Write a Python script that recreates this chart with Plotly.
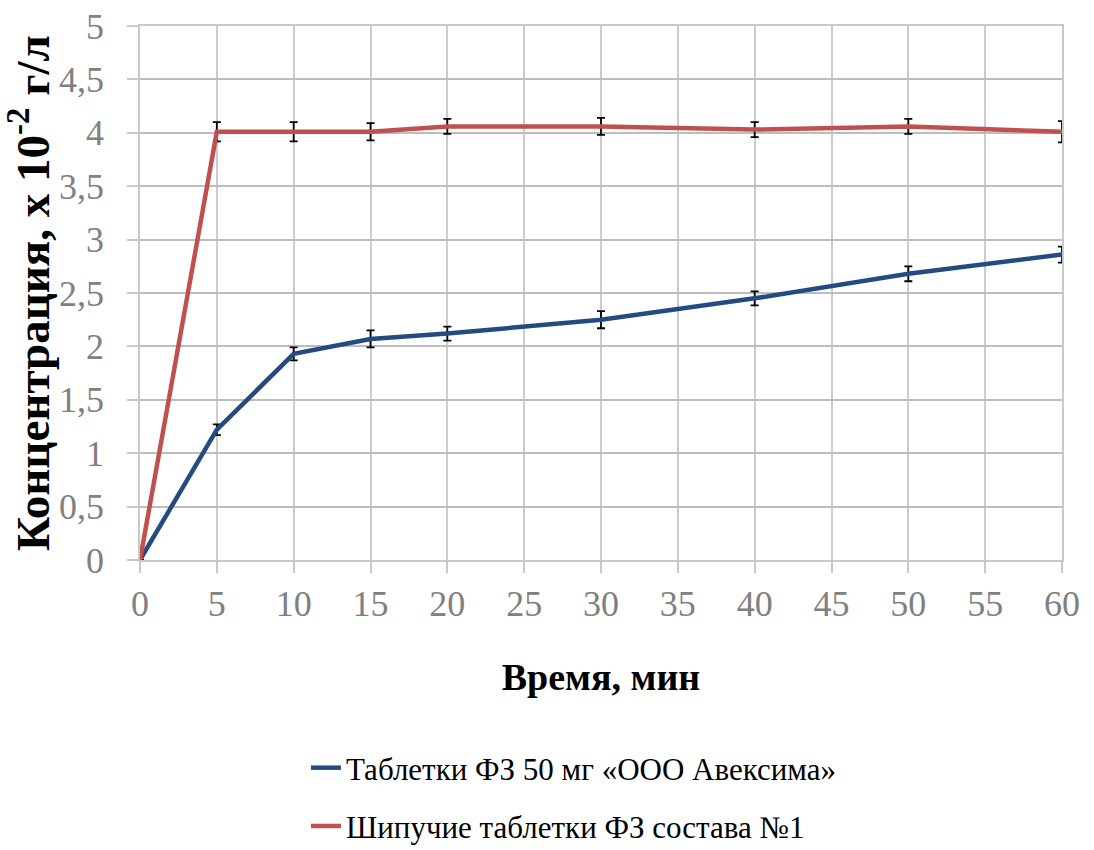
import plotly.graph_objects as go

time_min = [0, 5, 10, 15, 20, 30, 40, 50, 60]
avexima = [0, 1.22, 1.93, 2.07, 2.12, 2.25, 2.45, 2.68, 2.86]
avexima_err = [0, 0.05, 0.06, 0.08, 0.065, 0.08, 0.065, 0.07, 0.075]
effervescent = [0, 4.01, 4.01, 4.01, 4.06, 4.06, 4.03, 4.06, 4.01]
effervescent_err = [0, 0.09, 0.09, 0.08, 0.07, 0.08, 0.07, 0.07, 0.1]

name_blue = "Таблетки ФЗ 50 мг «ООО Авексима»"
name_red = "Шипучие таблетки ФЗ состава №1"

x_ticks = list(range(0, 61, 5))
y_ticks = [i * 0.5 for i in range(11)]
y_labels = ["0", "0,5", "1", "1,5", "2", "2,5", "3", "3,5", "4", "4,5", "5"]

SERIF = "Liberation Serif, Times New Roman, serif"

fig = go.Figure()
fig.add_trace(go.Scatter(
    x=time_min, y=avexima, name=name_blue, mode="lines", legendgroup="a",
    line=dict(color="#234b80", width=4.5),
    error_y=dict(type="data", array=avexima_err, color="black", thickness=1.8, width=4),
))
fig.add_trace(go.Scatter(
    x=time_min, y=effervescent, name=name_red, mode="lines", legendgroup="b",
    line=dict(color="#c0504d", width=4.5),
    error_y=dict(type="data", array=effervescent_err, color="black", thickness=1.8, width=4),
))

axis_font = dict(family=SERIF, size=36, color="#808080")
fig.update_layout(
    width=1094, height=850,
    margin=dict(l=140, r=32, t=26, b=290, autoexpand=False),
    plot_bgcolor="white", paper_bgcolor="white",
    showlegend=True,
    legend=dict(
        orientation="v", x=0.18, xanchor="left", y=-0.339, yanchor="top",
        font=dict(family=SERIF, size=31, color="black"),
        tracegroupgap=15,
    ),
    xaxis=dict(
        range=[0, 60], tickvals=x_ticks, ticktext=[str(v) for v in x_ticks],
        showgrid=True, gridcolor="#cccccc", gridwidth=1.5,
        showline=True, linecolor="#c9c9c9", linewidth=1.5, mirror=True,
        ticks="outside", ticklen=11, tickcolor="#c9c9c9", tickwidth=1.5,
        ticklabelstandoff=0,
        tickfont=axis_font, zeroline=False, automargin=False,
        title=dict(text="<b>Время, мин</b>", font=dict(family=SERIF, size=38, color="black"), standoff=40),
    ),
    yaxis=dict(
        range=[0, 5], tickvals=y_ticks, ticktext=y_labels,
        showgrid=True, gridcolor="#bdbdbd", gridwidth=1.5,
        showline=True, linecolor="#c9c9c9", linewidth=1.5, mirror=True,
        ticks="outside", ticklen=11, tickcolor="#c9c9c9", tickwidth=1.5,
        ticklabelstandoff=16,
        tickfont=axis_font, zeroline=False, automargin=False,
        title=dict(text="<b>Концентрация, х 10<sup>-2</sup> г/л</b>", font=dict(family=SERIF, size=47, color="black"), standoff=0),
    ),
)

fig.write_html("out.html", config={"displayModeBar": False},
               post_script="document.body.style.margin='0';")
